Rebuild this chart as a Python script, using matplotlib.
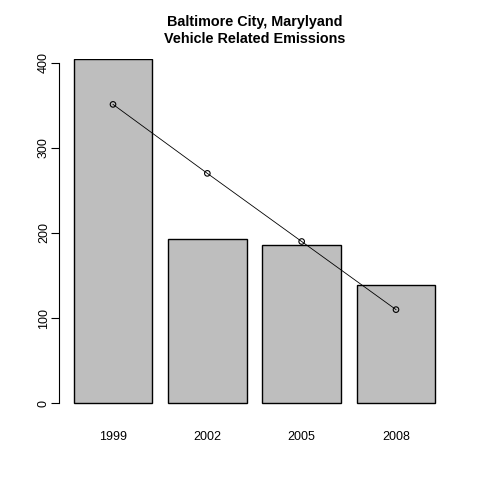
import matplotlib
matplotlib.use("Agg")
import matplotlib.pyplot as plt

## Data
years = ["1999", "2002", "2005", "2008"]
emissions = [404.2, 192.5, 186.3, 138.6]
trend = [351.0, 270.0, 190.0, 110.0]

plt.rcParams['font.family'] = ['Liberation Sans', 'DejaVu Sans']

fig = plt.figure(figsize=(4.8, 4.8), dpi=100)
# plot region like R's default margins (pixels 59..450 x, 59..407 y)
ax = fig.add_axes([59/480, (480-407)/480, (450-59)/480, (407-59)/480])

pos = [0.7 + 1.2*i for i in range(len(years))]
ax.bar(pos, emissions, width=1.0, color="#bebebe", edgecolor="black", linewidth=1.0)

# line with open circles (R type="b")
ax.plot(pos, trend, color="black", linewidth=0.6, zorder=3)
ax.scatter(pos, trend, s=16, facecolor="none", edgecolor="black", linewidth=0.8, zorder=5)

ax.set_xlim(0.013, 4.987)
ax.set_ylim(-4.35, 404.3)

for s in ["top", "right", "bottom"]:
    ax.spines[s].set_visible(False)
ax.spines["left"].set_bounds(0, 400)
ax.spines["left"].set_linewidth(0.8)

ax.set_yticks([0, 100, 200, 300, 400])
ax.set_yticklabels(["0", "100", "200", "300", "400"], rotation=90, va="center")
ax.tick_params(axis="y", length=5.5, width=0.8, pad=1, labelsize=9)

ax.set_xticks(pos)
ax.set_xticklabels(years)
ax.tick_params(axis="x", length=0, pad=17, labelsize=9)

fig.text(254.5/480, 1 - 22/480, "Baltimore City, Marylyand", ha="center", va="center",
         fontsize=10.4, fontweight="bold")
fig.text(254.5/480, 1 - 39/480, "Vehicle Related Emissions", ha="center", va="center",
         fontsize=10.4, fontweight="bold")

fig.savefig("out.png", dpi=100)
